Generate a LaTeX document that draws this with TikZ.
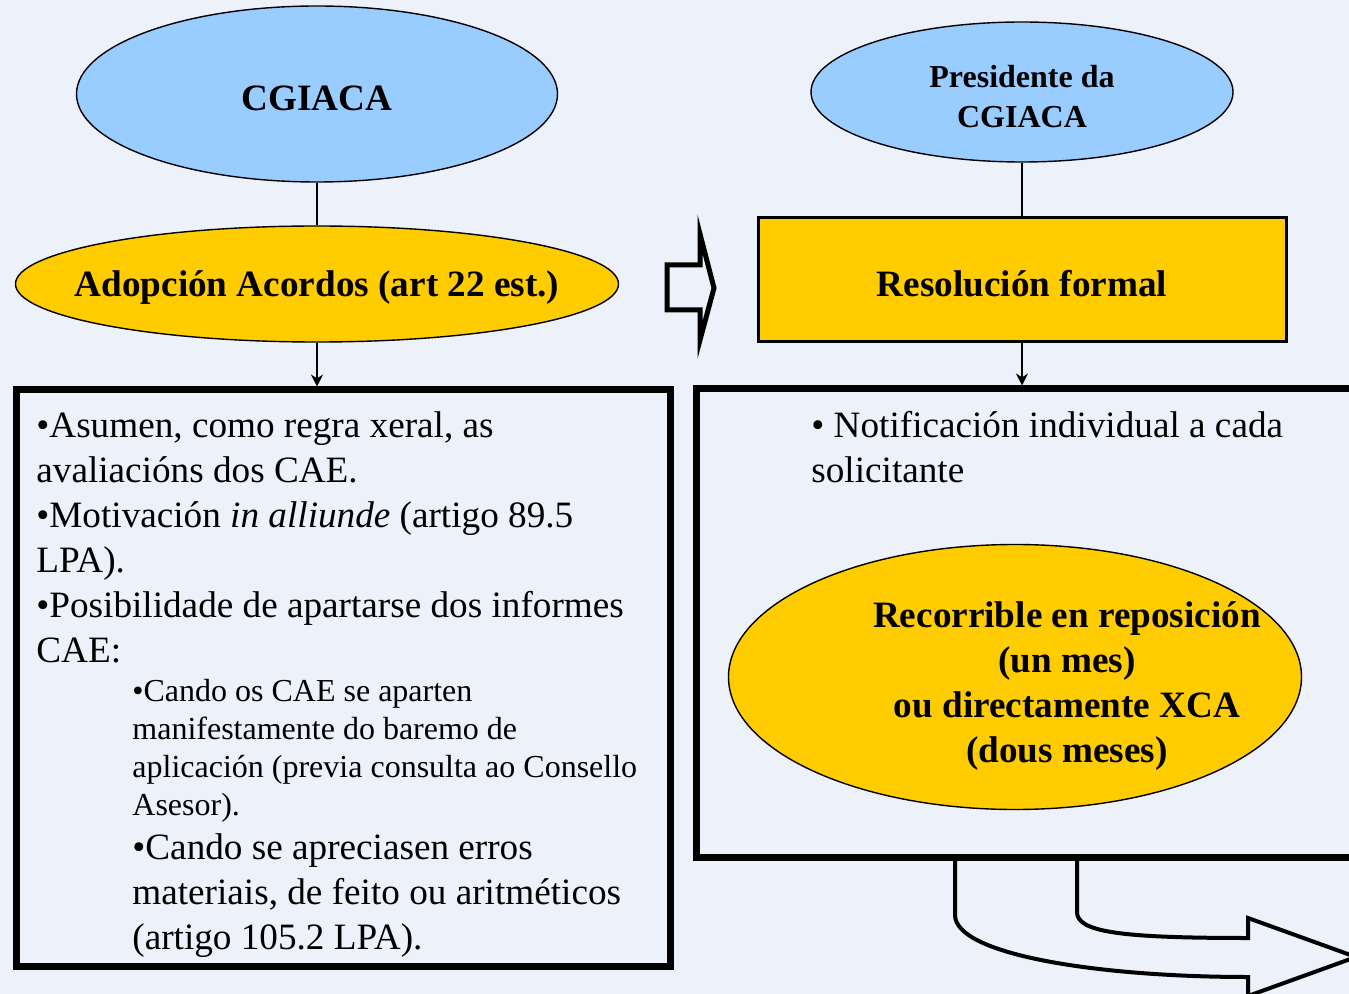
\documentclass[tikz,border=0pt]{standalone}
\usepackage{fontspec}
\setmainfont{Liberation Serif}
\usetikzlibrary{shapes.geometric}
\usetikzlibrary{arrows.meta}
\definecolor{paleback}{RGB}{237, 241, 249}
\definecolor{skyblue}{RGB}{153, 204, 255}
\definecolor{golden}{RGB}{255, 204, 0}

\begin{document}
\begin{tikzpicture}[x=0.5pt, y=-0.5pt,
            bubble/.style = {
                ellipse,
                draw=black,
                line width=0.7pt,
                inner sep=0pt,
                },
            title/.style = {
                align=center,
                yshift=-2pt,
                font=\bfseries\fontsize{18.6}{22.5}\selectfont,
                },
            plate/.style = {
                rectangle,
                draw=black,
                line width=3.5pt,
                },
            body/.style = {
                inner sep=0pt,
                anchor=north west,
                align=left,
                font=\fontsize{18.6}{22.5}\selectfont,
                },
            small/.style = {font=\fontsize{16}{19}\selectfont},
            link/.style = {line width=0.7pt},
            hollow/.style = {draw=black, fill=paleback, line width=2.5pt, line join=miter}]
            \fill[paleback] (0,0) rectangle (1349,994);
            \useasboundingbox (0,0) rectangle (1349,994);

            % left column
            \node[bubble, fill=skyblue, minimum width=240.5pt, minimum height=88pt,
                  label={[title]center:CGIACA}] (cgiaca) at (317,94) {};
            \node[bubble, fill=golden, minimum width=301.5pt, minimum height=58pt,
                  label={[title]center:Adopción Acordos (art 22 est.)}] (adop) at (317,284) {};
            \node[plate, minimum width=327pt, minimum height=288pt] (leftbox) at (343,678) {};
            \node[body] (asumen) at (36,411) {•Asumen, como regra xeral, as\\avaliacións dos CAE.\\•Motivación \textit{in alliunde} (artigo 89.5\\LPA).\\•Posibilidade de apartarse dos informes\\CAE:};
            \node[body, small] (cando1) at (132,679) {•Cando os CAE se aparten\\manifestamente do baremo de\\aplicación (previa consulta ao Consello\\Asesor).};
            \node[body] (cando2) at (132,833) {•Cando se apreciasen erros\\materiais, de feito ou aritméticos\\(artigo 105.2 LPA).};

            % right column
            \node[bubble, fill=skyblue, minimum width=211pt, minimum height=70pt,
                  label={[title, yshift=-0.5pt, font=\bfseries\fontsize{16}{20}\selectfont]center:Presidente da\\CGIACA}] (pres) at (1022,92) {};
            \node[plate, fill=golden, line width=1.5pt, minimum width=264pt, minimum height=62pt,
                  label={[title]center:Resolución formal}] (resol) at (1022,280) {};
            \draw[hollow, line width=2pt] (955,857) -- (1077,857) -- (1077,912)
                .. controls (1077,932) and (1120,938) .. (1248,938) -- (1248,918) -- (1356,957)
                -- (1248,996) -- (1248,977) .. controls (1100,977) and (955,955) .. (955,915) -- cycle;
            \node[plate, minimum width=330pt, minimum height=234pt] (rightbox) at (1026,623) {};
            \node[body] (notif) at (811,411) {• Notificación individual a cada\\solicitante};
            \node[bubble, fill=golden, minimum width=286.5pt, minimum height=132.5pt] (recur) at (1015,677) {};
            \node[title] (recurtext) at (1067,682)
                {Recorrible en reposición\\(un mes)\\ou directamente XCA\\(dous meses)};

            % connectors
            \draw[link] (cgiaca.south) -- (cgiaca.south |- adop.north);
            \draw[link, -{Stealth[length=6pt, width=6pt]}] (adop.south) -- (adop.south |- leftbox.north);
            \draw[link] (pres.south) -- (resol.north);
            \draw[link, -{Stealth[length=6pt, width=6pt]}] (resol.south) -- (resol.south |- rightbox.north);
            \draw[hollow] (667,265) -- (700,265) -- (700,234) -- (714,288) -- (700,340) -- (700,310) -- (667,310) -- cycle;
\end{tikzpicture}
\end{document}
